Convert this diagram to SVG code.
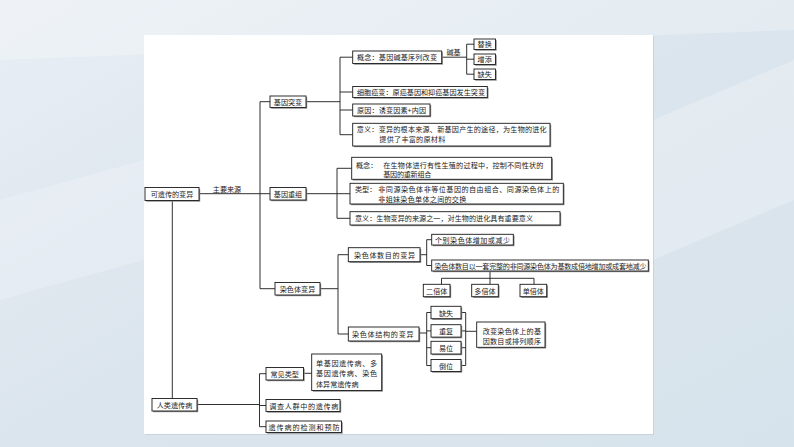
<svg xmlns="http://www.w3.org/2000/svg" width="794" height="447" viewBox="0 0 794 447">
<defs>
<linearGradient id="bg" x1="0" y1="0" x2="1" y2="1">
<stop offset="0" stop-color="#e8eef4"/>
<stop offset="0.5" stop-color="#dbe5ed"/>
<stop offset="1" stop-color="#d7e3ec"/>
</linearGradient>
<style>
.b{fill:#fff;stroke:#1a1a1a;stroke-width:0.9}
.s{fill:#8a8a8a}
.t{font-family:"Noto Sans CJK SC","Noto Sans",sans-serif;font-size:7.1px;fill:#1a1a1a;dominant-baseline:central}
.m{text-anchor:middle}
.c{fill:none;stroke:#1a1a1a;stroke-width:0.9}
</style>
</defs>
<rect width="794" height="447" fill="url(#bg)"/>
<polygon points="0,0 794,0 794,30 0,60" fill="#fff" opacity="0.25"/>
<polygon points="0,200 144,160 144,260 0,300" fill="#fff" opacity="0.2"/>
<polygon points="653,120 794,60 794,200 653,260" fill="#fff" opacity="0.25"/>
<rect x="145" y="36" width="509" height="399" fill="#c9d3db"/>
<rect x="144" y="35" width="509" height="399" fill="#fff"/>

<g id="connectors" class="c">
<path d="M199.3 193.7H270M260 101.7V288.7M260 101.7H270M260 288.7H275"/>
<path d="M172.3 200.5V398.5M197 404.5H259.5M259.5 373.7V426.7M259.5 373.7H266M259.5 405.5H266M259.5 426.7H266M303.5 373.3H311.7"/>
<path d="M306 101.7H340M340 57.2V134.7M340 57.2H352.7M340 92H352.7M340 110H352.7M340 134.7H352.7"/>
<path d="M441.7 57.2H466.7M466.7 44.2V74.2M466.7 44.2H474M466.7 59.2H474M466.7 74.2H474"/>
<path d="M306 193.7H337M337 168.3V218.3M337 168.3H351.7M337 193.7H350M337 218.3H350"/>
<path d="M320 288.7H338M338 254.7V334M338 254.7H348.3M338 334H348.3"/>
<path d="M420 254.7H426.7M426.7 239.7V265.5M426.7 239.7H431.7M426.7 265.5H431.7"/>
<path d="M490 271V284.3M441.5 278.3H534M441.5 278.3V284.3M534 278.3V284.3"/>
<path d="M419 333H426.7M426.7 312.5V365.5M426.7 312.5H431M426.7 330.9H431M426.7 347.7H431M426.7 365.5H431"/>
<path d="M461 312.5H465.7M461 330.9H465.7M461 347.7H465.7M461 365.5H465.7M465.7 312.5V365.5M465.7 331.3H476.7"/>
</g>
<text class="t m" x="227" y="189">主要来源</text>
<text class="t m" x="453.5" y="52">碱基</text>

<g id="n1"><rect class="s" x="146.2" y="188.7" width="54" height="13"/><rect class="b" x="145" y="187.5" width="54" height="13"/><text class="t m" x="172" y="194">可遗传的变异</text></g>
<g id="n2"><rect class="s" x="153.2" y="399.7" width="45" height="12.5"/><rect class="b" x="152" y="398.5" width="45" height="12.5"/><text class="t m" x="174.5" y="404.7">人类遗传病</text></g>
<g id="n3"><rect class="s" x="271.2" y="97.2" width="36" height="11.5"/><rect class="b" x="270" y="96" width="36" height="11.5"/><text class="t m" x="288" y="101.8">基因突变</text></g>
<g id="n4"><rect class="s" x="271.2" y="188.7" width="36" height="12.5"/><rect class="b" x="270" y="187.5" width="36" height="12.5"/><text class="t m" x="288" y="193.7">基因重组</text></g>
<g id="n5"><rect class="s" x="276.2" y="283.7" width="45" height="12.5"/><rect class="b" x="275" y="282.5" width="45" height="12.5"/><text class="t m" x="297.5" y="288.7">染色体变异</text></g>
<g id="n6"><rect class="s" x="267.2" y="368.7" width="37.5" height="12.5"/><rect class="b" x="266" y="367.5" width="37.5" height="12.5"/><text class="t m" x="284.7" y="373.7">常见类型</text></g>
<g id="n7"><rect class="s" x="267.2" y="400.7" width="74" height="12"/><rect class="b" x="266" y="399.5" width="74" height="12"/><text class="t" x="269.3" y="405.5" textLength="69" lengthAdjust="spacing">调查人群中的遗传病</text></g>
<g id="n8"><rect class="s" x="267.2" y="422.2" width="75.5" height="11.5"/><rect class="b" x="266" y="421" width="75.5" height="11.5"/><text class="t" x="268.5" y="426.7" textLength="71" lengthAdjust="spacing">遗传病的检测和预防</text></g>
<g id="n9"><rect class="s" x="312.9" y="355.2" width="70" height="36.5"/><rect class="b" x="311.7" y="354" width="70" height="36.5"/><text class="t" x="316" y="362.7" textLength="61" lengthAdjust="spacing">单基因遗传病、多</text><text class="t" x="316" y="373.3" textLength="61" lengthAdjust="spacing">基因遗传病、染色</text><text class="t" x="316" y="384">体异常遗传病</text></g>
<g id="n10"><rect class="s" x="353.9" y="52.2" width="89" height="12.5"/><rect class="b" x="352.7" y="51" width="89" height="12.5"/><text class="t" x="357" y="57.2" textLength="80" lengthAdjust="spacing">概念：基因碱基序列改变</text></g>
<g id="n11"><rect class="s" x="475.2" y="40.2" width="21.5" height="10.5"/><rect class="b" x="474" y="39" width="21.5" height="10.5"/><text class="t m" x="484.7" y="44.2">替换</text></g>
<g id="n12"><rect class="s" x="475.2" y="55.2" width="21.5" height="10.5"/><rect class="b" x="474" y="54" width="21.5" height="10.5"/><text class="t m" x="484.7" y="59.2">增添</text></g>
<g id="n13"><rect class="s" x="475.2" y="70.2" width="21.5" height="10.5"/><rect class="b" x="474" y="69" width="21.5" height="10.5"/><text class="t m" x="484.7" y="74.2">缺失</text></g>
<g id="n14"><rect class="s" x="353.9" y="87.7" width="134.6" height="11"/><rect class="b" x="352.7" y="86.5" width="134.6" height="11"/><text class="t" x="357" y="92" textLength="128" lengthAdjust="spacing">细胞癌变：原癌基因和抑癌基因发生突变</text></g>
<g id="n15"><rect class="s" x="353.9" y="105.2" width="77.3" height="12"/><rect class="b" x="352.7" y="104" width="77.3" height="12"/><text class="t" x="357" y="110" textLength="69" lengthAdjust="spacing">原因：诱变因素+内因</text></g>
<g id="n16"><rect class="s" x="353.9" y="124.5" width="197.3" height="22.7"/><rect class="b" x="352.7" y="123.3" width="197.3" height="22.7"/><text class="t" x="356.7" y="129.3" textLength="190" lengthAdjust="spacing">意义：变异的根本来源、新基因产生的途径，为生物的进化</text><text class="t" x="379.3" y="139.3" textLength="66" lengthAdjust="spacing">提供了丰富的原材料</text></g>
<g id="n17"><rect class="s" x="352.9" y="158.5" width="200" height="22"/><rect class="b" x="351.7" y="157.3" width="200" height="22"/><text class="t" x="356" y="165">概念：</text><text class="t" x="383.3" y="165" textLength="160" lengthAdjust="spacing">在生物体进行有性生殖的过程中，控制不同性状的</text><text class="t" x="383.3" y="174" textLength="48" lengthAdjust="spacing">基因的重新组合</text></g>
<g id="n18"><rect class="s" x="351.2" y="184.5" width="213.3" height="20.7"/><rect class="b" x="350" y="183.3" width="213.3" height="20.7"/><text class="t" x="355" y="189">类型：</text><text class="t" x="378.3" y="189" textLength="181" lengthAdjust="spacing">非同源染色体非等位基因的自由组合、同源染色体上的</text><text class="t" x="378.3" y="199" textLength="88" lengthAdjust="spacing">非姐妹染色单体之间的交换</text></g>
<g id="n19"><rect class="s" x="351.2" y="212.9" width="210" height="13.3"/><rect class="b" x="350" y="211.7" width="210" height="13.3"/><text class="t" x="355" y="218.3" textLength="178" lengthAdjust="spacing">意义：生物变异的来源之一，对生物的进化具有重要意义</text></g>
<g id="n20"><rect class="s" x="349.5" y="248.9" width="71.7" height="14"/><rect class="b" x="348.3" y="247.7" width="71.7" height="14"/><text class="t" x="354" y="254.7" textLength="61" lengthAdjust="spacing">染色体数目的变异</text></g>
<g id="n21"><rect class="s" x="432.9" y="235.5" width="81.6" height="10.7"/><rect class="b" x="431.7" y="234.3" width="81.6" height="10.7"/><text class="t" x="435" y="239.7" textLength="75" lengthAdjust="spacing">个别染色体增加或减少</text></g>
<g id="n22"><rect class="s" x="432.9" y="261.2" width="216.6" height="11"/><rect class="b" x="431.7" y="260" width="216.6" height="11"/><text class="t" x="434.5" y="265.5" textLength="212" lengthAdjust="spacing">染色体数目以一套完整的非同源染色体为基数成倍地增加或成套地减少</text></g>
<g id="n23"><rect class="s" x="424.5" y="285.5" width="26.7" height="12.4"/><rect class="b" x="423.3" y="284.3" width="26.7" height="12.4"/><text class="t m" x="436.7" y="290.5">二倍体</text></g>
<g id="n24"><rect class="s" x="472.9" y="285.5" width="26.6" height="12.4"/><rect class="b" x="471.7" y="284.3" width="26.6" height="12.4"/><text class="t m" x="485" y="290.5">多倍体</text></g>
<g id="n25"><rect class="s" x="521.2" y="285.5" width="26.7" height="12.4"/><rect class="b" x="520" y="284.3" width="26.7" height="12.4"/><text class="t m" x="533.3" y="290.5">单倍体</text></g>
<g id="n26"><rect class="s" x="349.5" y="328.2" width="70.7" height="14"/><rect class="b" x="348.3" y="327" width="70.7" height="14"/><text class="t" x="352" y="334" textLength="61.5" lengthAdjust="spacing">染色体结构的变异</text></g>
<g id="n27"><rect class="s" x="432.2" y="307.5" width="30" height="12.4"/><rect class="b" x="431" y="306.3" width="30" height="12.4"/><text class="t m" x="446" y="312.5">缺失</text></g>
<g id="n28"><rect class="s" x="432.2" y="325.9" width="30" height="12.4"/><rect class="b" x="431" y="324.7" width="30" height="12.4"/><text class="t m" x="446" y="330.9">重复</text></g>
<g id="n29"><rect class="s" x="432.2" y="342.5" width="30" height="12.7"/><rect class="b" x="431" y="341.3" width="30" height="12.7"/><text class="t m" x="446" y="347.7">易位</text></g>
<g id="n30"><rect class="s" x="432.2" y="360.7" width="30" height="12"/><rect class="b" x="431" y="359.5" width="30" height="12"/><text class="t m" x="446" y="365.5">倒位</text></g>
<g id="n31"><rect class="s" x="477.9" y="323.2" width="68.3" height="25.3"/><rect class="b" x="476.7" y="322" width="68.3" height="25.3"/><text class="t" x="482.7" y="331.3" textLength="58.3" lengthAdjust="spacing">改变染色体上的基</text><text class="t" x="482.7" y="340.7" textLength="58.3" lengthAdjust="spacing">因数目或排列顺序</text></g>
</svg>
